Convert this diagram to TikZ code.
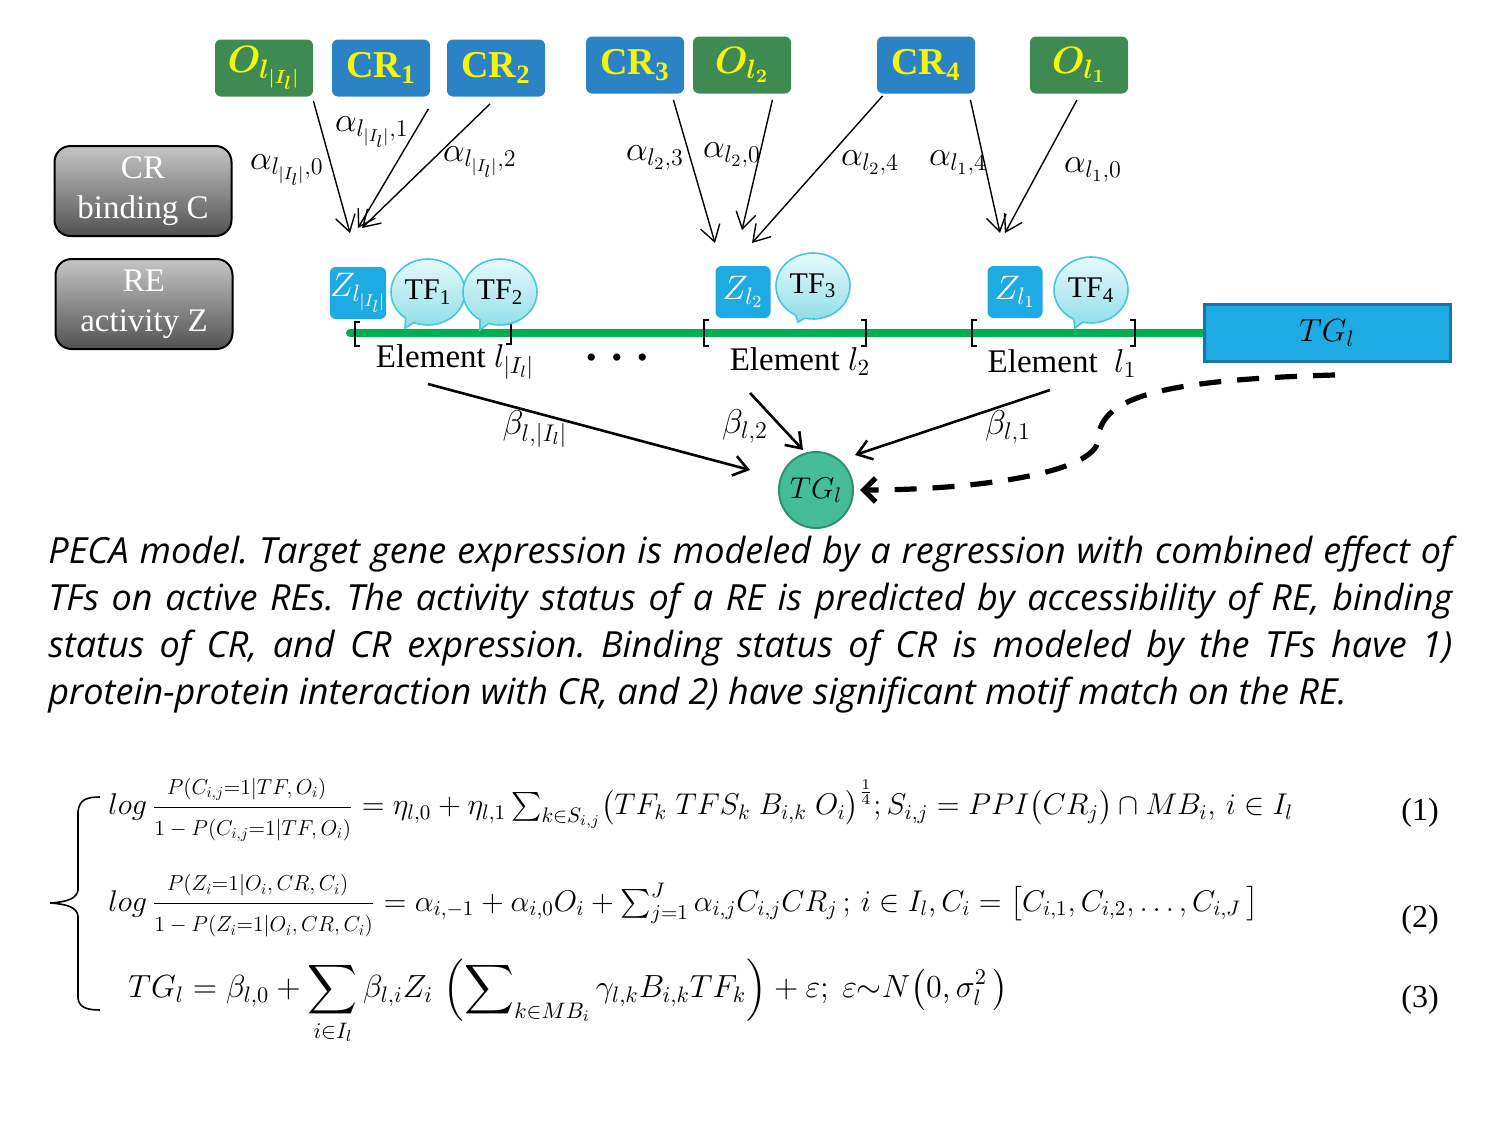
\RequirePackage{fix-cm}
\documentclass[tikz,border=0pt]{standalone}
\usepackage{amsmath,bm,graphicx}
\usepackage{fontspec}
\setmainfont{Liberation Serif}
\newfontfamily\capfont{Open Sans}
\usetikzlibrary{arrows.meta,shapes.callouts,shapes.geometric,calc}
\definecolor{gbox}{HTML}{3F8A52}
\definecolor{bbox}{HTML}{2B83C6}
\definecolor{ytext}{HTML}{F5F50A}
\definecolor{zblue}{HTML}{1EAAE2}
\definecolor{lgreen}{HTML}{00B050}
\definecolor{tgfill}{HTML}{44BD98}
\definecolor{tgdraw}{HTML}{2F8F70}
\definecolor{tgrdraw}{HTML}{1B75A8}
\definecolor{tfdraw}{HTML}{45C9D9}
\definecolor{tftop}{HTML}{E6FAFC}
\definecolor{tfbot}{HTML}{8EDDE6}
\newcommand{\myfr}[2]{\dfrac{\scalebox{0.72}{$#1$}}{\scalebox{0.72}{$#2$}}}
\begin{document}
\begin{tikzpicture}[x=0.5pt,y=-0.5pt,
  topbox/.style={rounded corners=3pt,minimum width=49pt,minimum height=28.5pt,inner sep=0pt,
    text=ytext,font=\bfseries\fontsize{19}{20}\selectfont},
  obox/.style={topbox,fill=gbox},
  crbox/.style={topbox,fill=bbox},
  graybox/.style={rounded corners=8pt,draw=black,line width=1pt,top color=gray!45,bottom color=black!68,
    minimum width=88.5pt,minimum height=45pt,text=white,align=center,inner sep=0pt,
    font=\fontsize{16.5}{20}\selectfont},
  zbox/.style={rounded corners=3pt,fill=zblue,minimum width=27.5pt,minimum height=26pt,inner sep=0pt,
    text=white,font=\fontsize{17}{18}\selectfont},
  tfcall/.style={ellipse callout,draw=tfdraw,line width=0.8pt,top color=tftop,bottom color=tfbot,
    minimum width=37pt,minimum height=33pt,inner sep=0pt,font=\fontsize{15}{16}\selectfont},
  alab/.style={font=\fontsize{17.2}{18}\selectfont,inner sep=0pt},
  aarr/.style={line width=0.7pt,-{Straight Barb[length=8pt,width=10pt]}},
  barr/.style={line width=1.3pt,-{Straight Barb[length=7pt,width=10pt]}},
  elab/.style={font=\fontsize{16.5}{18}\selectfont,inner sep=0pt},
  brk/.style={line width=0.6pt},
  eq/.style={inner sep=0pt,anchor=west},
  eqn/.style={font=\fontsize{16}{18}\selectfont,inner sep=0pt}
]
\useasboundingbox (0,0) rectangle (1512,1125);

% top boxes
\node[obox] (o3) at (264,68) {$\bm{O_{l_{|I_l|}}}$};
\node[crbox] (cr1) at (381,68) {CR\textsubscript{1}};
\node[crbox] (cr2) at (496,68) {CR\textsubscript{2}};
\node[crbox] (cr3) at (635,65) {CR\textsubscript{3}};
\node[obox] (o2) at (742,65) {$\bm{O_{l_2}}$};
\node[crbox] (cr4) at (926,65) {CR\textsubscript{4}};
\node[obox] (o1) at (1079,65) {$\bm{O_{l_1}}$};

% gray legend boxes
\node[graybox] (crb) at (143,191) {CR\\binding C};
\node[graybox] (rea) at (144,304) {RE\\activity Z};

% green line
\draw[lgreen,line width=4pt,line cap=round] (350,333) -- (1205,333);

% brackets
\draw[brk] (360,322) -- (355,322) -- (355,346) -- (360,346);
\draw[brk] (506,320) -- (511,320) -- (511,344) -- (506,344);
\draw[brk] (709,320) -- (704,320) -- (704,346) -- (709,346);
\draw[brk] (861,320) -- (866,320) -- (866,346) -- (861,346);
\draw[brk] (977,320) -- (972,320) -- (972,346) -- (977,346);
\draw[brk] (1130,320) -- (1135,320) -- (1135,346) -- (1130,346);

% Z boxes
\node[zbox] (z3) at (358,293) {$Z_{l_{|I_l|}}$};
\node[zbox] (z2) at (743,292) {$Z_{l_2}$};
\node[zbox] (z1) at (1015,292) {$Z_{l_1}$};

% TF callouts
\node[tfcall,callout absolute pointer={(405,328)}] (tf1) at (428,292) {TF\textsubscript{1}};
\node[tfcall,callout absolute pointer={(480,330)}] (tf2) at (500,292) {TF\textsubscript{2}};
\node[tfcall,callout absolute pointer={(798,322)}] (tf3) at (813,286) {TF\textsubscript{3}};
\node[tfcall,callout absolute pointer={(1075,328)}] (tf4) at (1091,290) {TF\textsubscript{4}};

% TG rectangle
\node[draw=tgrdraw,line width=1.5pt,fill=zblue,minimum width=123pt,minimum height=28.5pt,inner sep=0pt,
  font=\fontsize{16}{18}\selectfont] (tgr) at (1327,333) {$TG_l$};

% element labels
\node[elab] (el3) at (455,362) {Element $l_{|I_l|}$};
\node[elab,font=\fontsize{15}{16}\selectfont] (dots) at (617,361) {\textbullet\ \ \textbullet\ \ \textbullet};
\node[elab] (el2) at (800,362) {Element $l_2$};
\node[elab] (el1) at (1062,364) {Element\ \ $l_1$};

% TG circle
\node[ellipse,draw=tgdraw,line width=1pt,fill=tgfill,minimum width=37pt,minimum height=38pt,inner sep=0pt,
  font=\fontsize{15}{16}\selectfont] (tgc) at (816,490) {$TG_l$};

% alpha arrows
\coordinate (e3) at (350,233);
\coordinate (e31) at (358,228);
\coordinate (e32) at (362,228);
\coordinate (e23) at (715,243);
\coordinate (e20) at (742,230);
\coordinate (e24) at (752,243);
\coordinate (e14) at (1000,233);
\coordinate (e10) at (1005,233);
\draw[aarr] ([yshift=-2pt]o3.south east) -- (e3);
\draw[aarr] ([xshift=-1pt,yshift=-6pt]cr1.south east) -- (e31);
\draw[aarr] ([xshift=-3pt,yshift=-3.5pt]cr2.south) -- (e32);
\draw[aarr] ([xshift=-5.5pt,yshift=-3pt]cr3.south east) -- (e23);
\draw[aarr] ([xshift=-9.5pt,yshift=-3pt]o2.south east) -- (e20);
\draw[aarr] ([xshift=3pt,yshift=-1pt]cr4.south west) -- (e24);
\draw[aarr] ([xshift=-2.5pt,yshift=-3pt]cr4.south east) -- (e14);
\draw[aarr] ([xshift=-1pt,yshift=-3pt]o1.south) -- (e10);

\node[alab] (la30) at (287,170) {$\alpha_{l_{|I_l|},0}$};
\node[alab] (la31) at (372,132) {$\alpha_{l_{|I_l|},1}$};
\node[alab] (la32) at (480,162) {$\alpha_{l_{|I_l|},2}$};
\node[alab] (la23) at (655,158) {$\alpha_{l_2,3}$};
\node[alab] (la20) at (732,155) {$\alpha_{l_2,0}$};
\node[alab] (la24) at (870,163) {$\alpha_{l_2,4}$};
\node[alab] (la14) at (958,163) {$\alpha_{l_1,4}$};
\node[alab] (la10) at (1093,170) {$\alpha_{l_1,0}$};

% beta arrows
\coordinate (bs3) at (428,384);
\coordinate (be3) at (750,470);
\coordinate (bs2) at (750,393);
\coordinate (be2) at (803,450);
\coordinate (bs1) at (1050,390);
\coordinate (be1) at (855,455);
\draw[barr] (bs3) -- (be3);
\draw[barr] (bs2) -- (be2);
\draw[barr] (bs1) -- (be1);
\node[alab] (lb3) at (535,429) {$\beta_{l,|I_l|}$};
\node[alab] (lb2) at (745,426) {$\beta_{l,2}$};
\node[alab] (lb1) at (1008,427) {$\beta_{l,1}$};

% dashed curve
\coordinate (ds) at (1335,375);
\draw[line width=2.6pt,dash pattern=on 11pt off 8pt,-{Straight Barb[length=6pt,width=12pt]}]
  (ds) .. controls (1150,380) and (1100,400) .. (1098,440)
  .. controls (1096,472) and (980,490) .. ([xshift=3pt]tgc.east);

% caption
\node[anchor=north west,inner sep=0pt,text width=702pt,align=justify,
  font=\capfont\itshape\fontsize{18}{23.5}\selectfont] (cap) at (48,536)
  {\frenchspacing\hyphenpenalty=10000 PECA model. Target gene expression is modeled by a regression with combined effect of\linebreak TFs on active REs. The activity status of a RE is predicted by accessibility of RE, binding\linebreak status of CR, and CR expression. Binding status of CR is modeled by the TFs have 1)\linebreak protein-protein interaction with CR, and 2) have significant motif match on the RE.};

% brace
\draw[line width=0.8pt] (100,797) .. controls (86,797) and (79,800) .. (78,812) -- (78,890)
  .. controls (77,899) and (66,902) .. (50,903) .. controls (66,904) and (77,907) .. (78,916)
  -- (78,998) .. controls (79,1007) and (86,1010) .. (100,1010);

% equations
\node[eq,font=\fontsize{15}{18}\selectfont] (eq1) at (108,810) {$log\,\myfr{P(C_{i,j}{=}1|TF,O_i)}{1-P(C_{i,j}{=}1|TF,O_i)} = \eta_{l,0}+\eta_{l,1}\sum_{k\in S_{i,j}}\bigl(TF_k\;TFS_k\;B_{i,k}\;O_i\bigr)^{\frac14};S_{i,j}=PPI\bigl(CR_j\bigr)\cap MB_i,\,i\in I_l$};
\node[eq,font=\fontsize{15}{18}\selectfont] (eq2) at (108,906) {$log\,\myfr{P(Z_i{=}1|O_i,CR,C_i)}{1-P(Z_i{=}1|O_i,CR,C_i)} = \alpha_{i,-1}+\alpha_{i,0}O_i+\sum_{j=1}^{J}\alpha_{i,j}C_{i,j}CR_j\,;\,i\in I_l,C_i=\bigl[C_{i,1},C_{i,2},\dots,C_{i,J}\,\bigr]$};
\node[eq,font=\fontsize{16}{18}\selectfont] (eq3) at (128,1002) {$\displaystyle TG_l=\beta_{l,0}+\sum_{i\in I_l}\beta_{l,i}Z_i\,\left(\sum\nolimits_{k\in MB_i}\gamma_{l,k}B_{i,k}TF_k\right)+\varepsilon;\ \varepsilon{\sim}N\bigl(0,\sigma_l^2\,\bigr)$};
\node[eqn] (n1) at (1420,813) {(1)};
\node[eqn] (n2) at (1420,920) {(2)};
\node[eqn] (n3) at (1420,1000) {(3)};
\end{tikzpicture}
\end{document}
